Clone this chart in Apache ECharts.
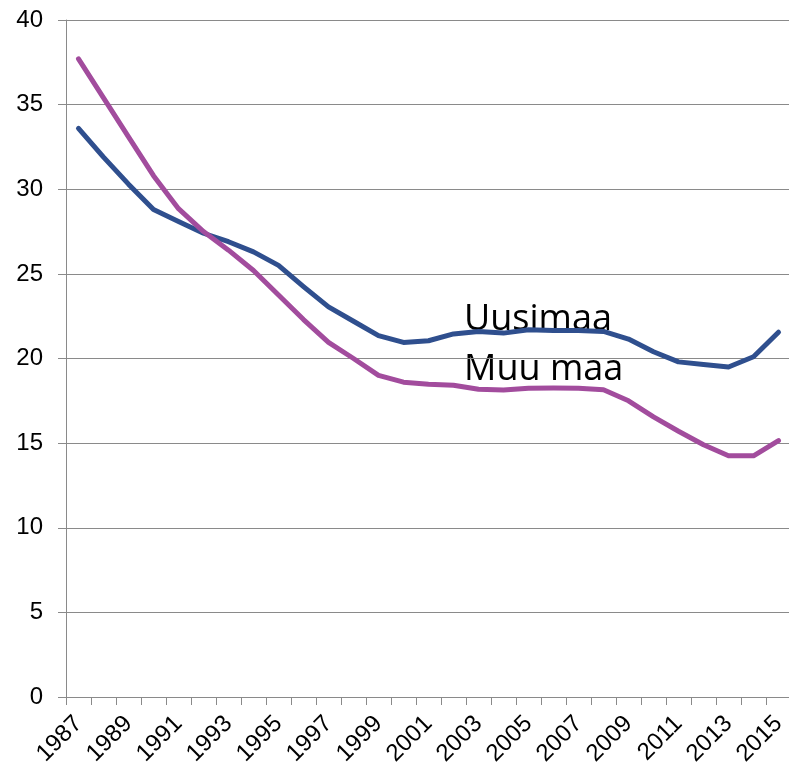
<!DOCTYPE html>
<html>
<head>
<meta charset="utf-8">
<script src="https://cdn.jsdelivr.net/npm/echarts@6/dist/echarts.min.js"></script>
<style>
  html, body { margin: 0; padding: 0; background: #fff; }
  #chart { width: 789px; height: 772px; }
</style>
</head>
<body>
<div id="chart"></div>
<script>
// Years 1987–2015, one point per year
const years = [];
for (let y = 1987; y <= 2015; y++) years.push(String(y));

// Uusimaa (blue)
const uusimaa = [
  33.6, 31.9, 30.3, 28.8, 28.1, 27.4, 26.9, 26.3, 25.5, 24.25,
  23.05, 22.2, 21.35, 20.95, 21.05, 21.45, 21.6, 21.5, 21.7, 21.65,
  21.65, 21.6, 21.15, 20.4, 19.8, 19.65, 19.5, 20.1, 21.55,
];

// Muu maa (magenta)
const muuMaa = [
  37.7, 35.4, 33.1, 30.8, 28.85, 27.5, 26.4, 25.2, 23.75, 22.3,
  20.95, 20.0, 19.0, 18.6, 18.48, 18.42, 18.18, 18.14, 18.24, 18.25,
  18.24, 18.15, 17.5, 16.55, 15.7, 14.9, 14.25, 14.25, 15.15,
];

const yTicks = { min: 0, max: 40, step: 5 };

const AXIS_GRAY = "#8a8a8a";
const BLUE = "#2f4f8e";
const MAGENTA = "#a24c9d";
const LABEL_FONT = "Liberation Sans, Arial, sans-serif";

const chart = echarts.init(document.getElementById("chart"), null, { renderer: "canvas" });

chart.setOption({
  animation: false,
  backgroundColor: "#fff",
  grid: { left: 66, top: 20, width: 725, height: 677, containLabel: false, outerBoundsMode: "none" },
  xAxis: {
    type: "category",
    data: years,
    boundaryGap: true,
    axisLine: { show: true, lineStyle: { color: AXIS_GRAY, width: 1 } },
    axisTick: { show: true, interval: 0, length: 8, lineStyle: { color: AXIS_GRAY } },
    axisLabel: {
      interval: 1,
      rotate: 45,
      margin: 23,
      color: "#000",
      fontFamily: LABEL_FONT,
      fontSize: 24,
    },
    splitLine: { show: false },
  },
  yAxis: {
    type: "value",
    min: yTicks.min,
    max: yTicks.max,
    interval: yTicks.step,
    axisLine: { show: true, lineStyle: { color: AXIS_GRAY, width: 1 } },
    axisTick: { show: true, length: 8, lineStyle: { color: AXIS_GRAY } },
    axisLabel: {
      margin: 23,
      color: "#000",
      fontFamily: LABEL_FONT,
      fontSize: 24,
    },
    splitLine: { show: true, lineStyle: { color: AXIS_GRAY, width: 1 } },
  },
  series: [
    {
      name: "Uusimaa",
      type: "line",
      data: uusimaa,
      showSymbol: false,
      smooth: false,
      lineStyle: { color: BLUE, width: 5, cap: "round", join: "round" },
    },
    {
      name: "Muu maa",
      type: "line",
      data: muuMaa,
      showSymbol: false,
      smooth: false,
      lineStyle: { color: MAGENTA, width: 5, cap: "round", join: "round" },
    },
  ],
  graphic: [
    {
      type: "text",
      left: 464,
      top: 302,
      style: { text: "Uusimaa", fill: "#000", font: "36px 'Open Sans', sans-serif" },
    },
    {
      type: "text",
      left: 464,
      top: 352,
      style: { text: "Muu maa", fill: "#000", font: "36px 'Open Sans', sans-serif" },
    },
  ],
});
</script>
</body>
</html>
